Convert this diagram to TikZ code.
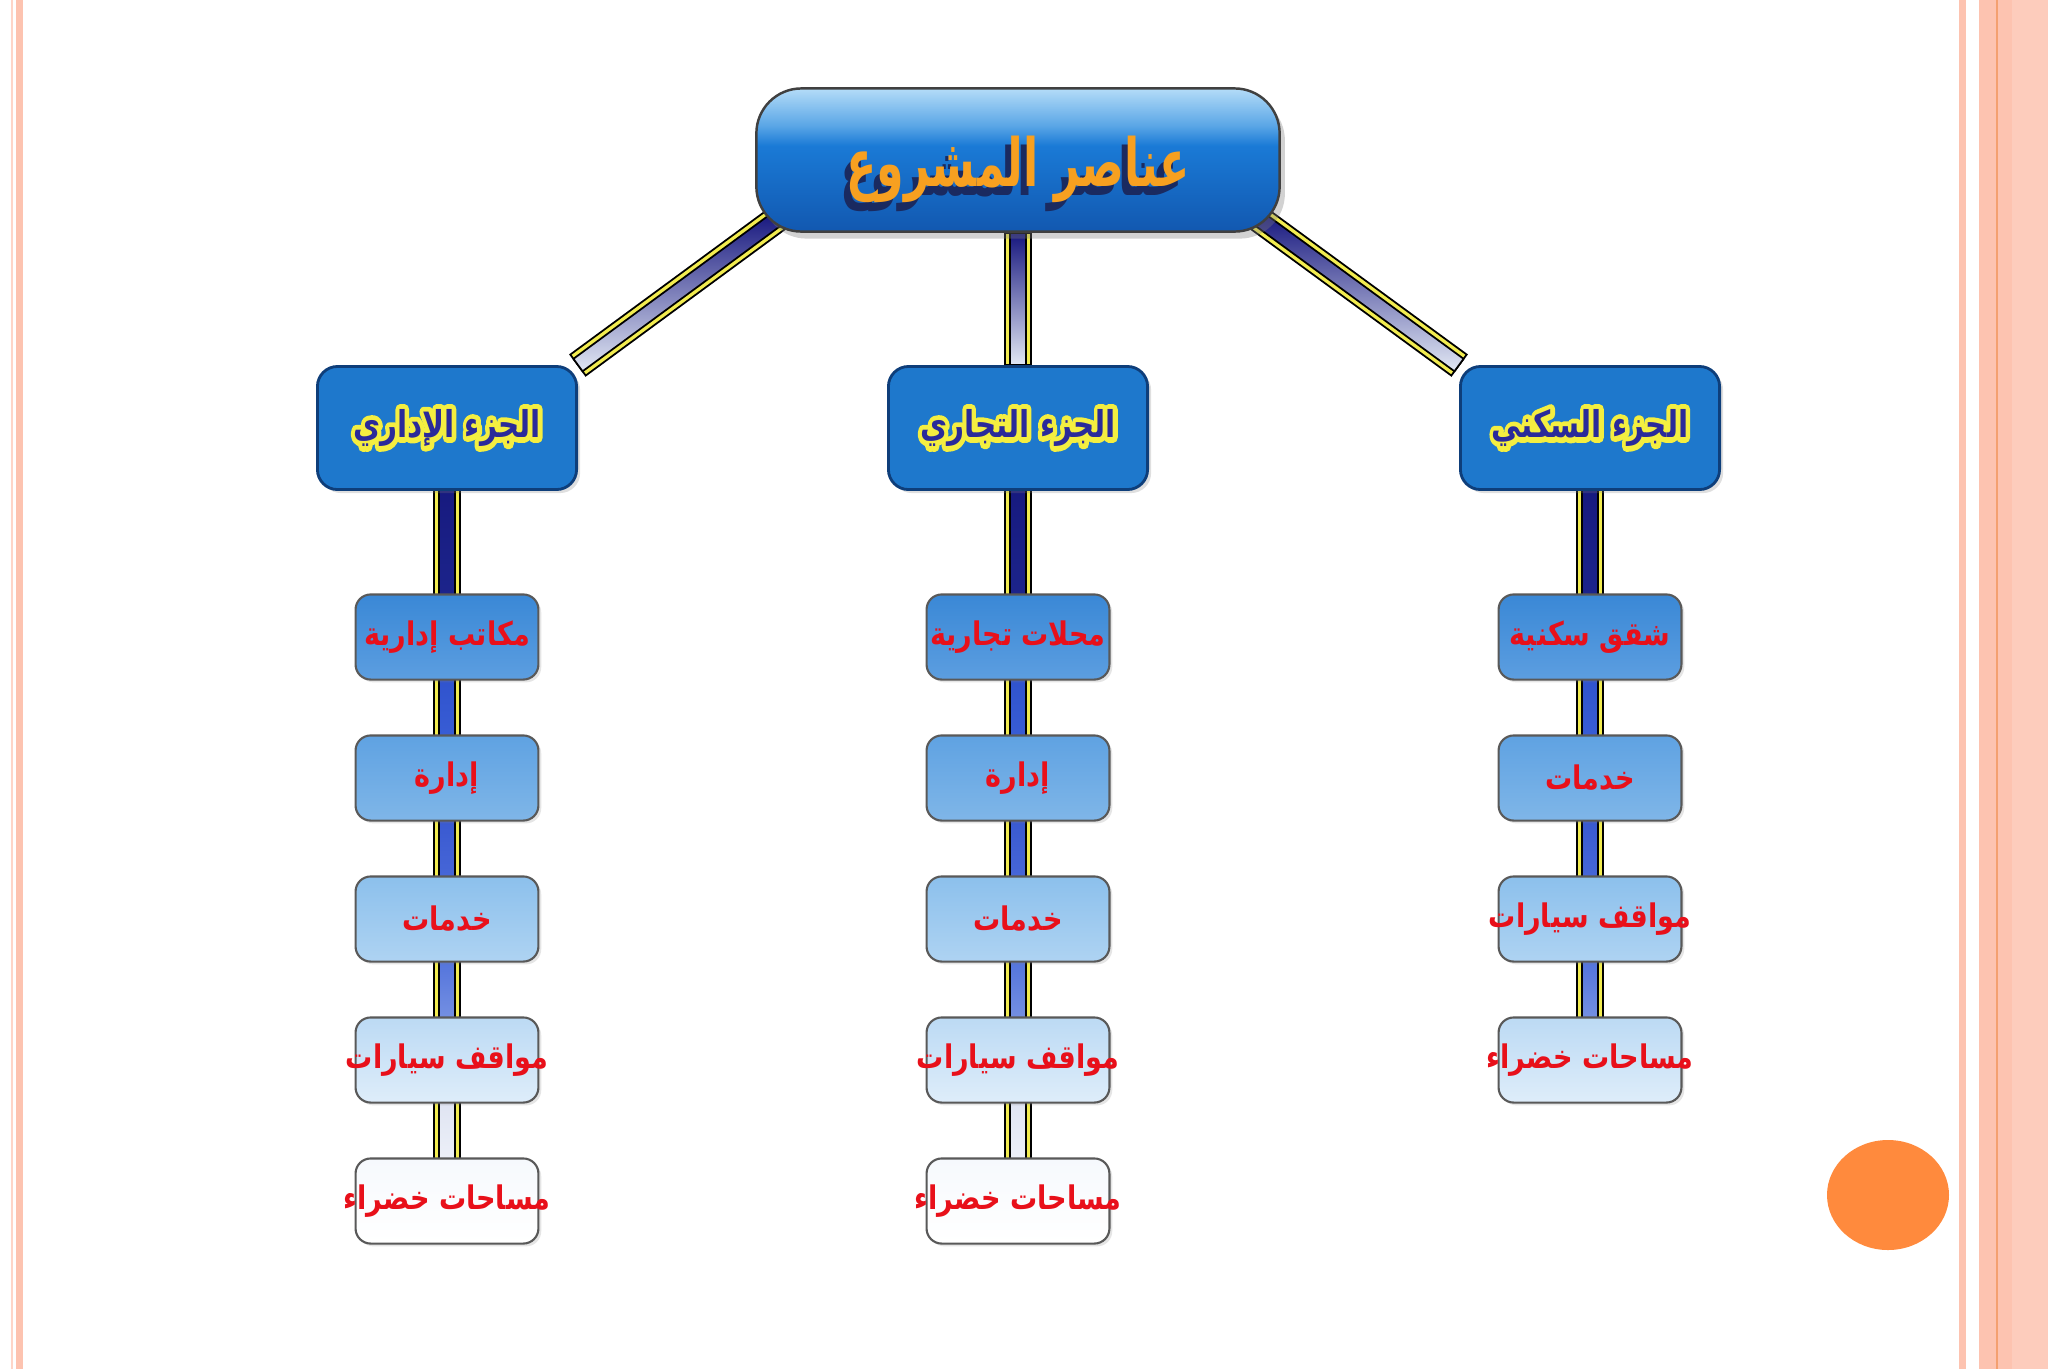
\documentclass[tikz,border=0pt]{standalone}
\usepackage{fontspec}
\usepackage{graphicx}
\TeXXeTstate=1
\newfontfamily\arabicfont[Script=Arabic]{DejaVu Sans}
\usetikzlibrary{calc,shadows}
\pgfdeclarelayer{pagebg}
\pgfdeclarelayer{links}
\pgfsetlayers{pagebg,links,main}

\definecolor{stripepink}{HTML}{FDC3B0}
\definecolor{stripeline}{HTML}{F4A070}
\definecolor{dotorange}{HTML}{FF8A3D}
\definecolor{titleorange}{HTML}{F7A020}
\definecolor{titleshade}{HTML}{1A2A60}
\definecolor{partblue}{HTML}{1E78CC}
\definecolor{partedge}{HTML}{0E3E7A}
\definecolor{parttext}{HTML}{2A2A9A}
\definecolor{haloyellow}{HTML}{F4EE40}
\definecolor{itemred}{HTML}{E8101A}
\definecolor{linkyellow}{HTML}{F2EC50}
\definecolor{linknavy}{HTML}{16167E}
\definecolor{linkpale}{HTML}{E2E8F4}
\definecolor{glossA}{HTML}{B4DCF8}
\definecolor{glossB}{HTML}{5AA6E6}
\definecolor{glossC}{HTML}{1A7AD6}
\definecolor{glossD}{HTML}{1258B0}
\pgfdeclareverticalshading{gloss}{100bp}{color(0bp)=(glossD); color(25bp)=(glossD); color(55bp)=(glossC); color(62bp)=(glossB); color(75bp)=(glossA); color(100bp)=(glossA)}
\definecolor{rowAtop}{HTML}{3A88D6}\definecolor{rowAbot}{HTML}{5C9EE0}
\definecolor{rowBtop}{HTML}{5FA2E2}\definecolor{rowBbot}{HTML}{7FB6E8}
\definecolor{rowCtop}{HTML}{8CC0EC}\definecolor{rowCbot}{HTML}{AED3F2}
\definecolor{rowDtop}{HTML}{BCDAF4}\definecolor{rowDbot}{HTML}{DEEDFA}
\definecolor{rowEtop}{HTML}{F6F9FD}
\definecolor{barA}{HTML}{141478}\definecolor{barB}{HTML}{1E2890}
\definecolor{barC}{HTML}{2A4CC8}\definecolor{barD}{HTML}{3E64DA}
\definecolor{barE}{HTML}{3050CC}\definecolor{barF}{HTML}{5070DC}
\definecolor{barG}{HTML}{3C60D8}\definecolor{barH}{HTML}{8CA4E6}
\definecolor{barI}{HTML}{D6DCEE}\definecolor{barJ}{HTML}{F6F8FC}

\newcommand\ar[1]{{\arabicfont\bfseries\beginR #1\endR}}
\newcommand\shadowed[1]{\raisebox{-4pt}[\height][\depth]{\scalebox{1}[1.5]{\rlap{\kern-1.8pt\raisebox{-1.6pt}{\color{titleshade}\ar{#1}}}{\color{titleorange}\ar{#1}}}}}
\newcommand\haloed[1]{\scalebox{1}[1.25]{\rlap{\color{haloyellow}\special{pdf:literal direct 2.4 w 1 j 1 Tr}\ar{#1}\special{pdf:literal direct 0 Tr}}{\color{parttext}\ar{#1}}}}
\newcommand\entry[1]{\makebox[0pt]{\scalebox{1}[1.2]{\ar{#1}}}}
\newcommand\linkbar[4]{%
  \filldraw[fill=linkyellow,draw=black,line width=0.5pt]
    ($(#1)!3.7pt!90:(#2)$) -- ($(#1)!3.7pt!-90:(#2)$) -- ($(#2)!3.7pt!90:(#1)$) -- ($(#2)!3.7pt!-90:(#1)$) -- cycle;
  \shadedraw[top color=#3,bottom color=#4,draw=black,line width=0.5pt]
    ($(#1)!2.2pt!90:(#2)$) -- ($(#1)!2.2pt!-90:(#2)$) -- ($(#2)!2.2pt!90:(#1)$) -- ($(#2)!2.2pt!-90:(#1)$) -- cycle;}

\tikzset{
  topbox/.style={rounded corners=12.8pt,draw=black!75,line width=0.7pt,shading=gloss,minimum width=148.8pt,minimum height=40.7pt,inner sep=0pt,font=\fontsize{12.6}{15}\selectfont,drop shadow={opacity=0.35,shadow xshift=1.5pt,shadow yshift=-2pt}},
  partbox/.style={rounded corners=5.7pt,draw=partedge,line width=0.8pt,fill=partblue,minimum width=73.7pt,minimum height=35pt,inner sep=0pt,font=\fontsize{8.4}{10}\selectfont,drop shadow={opacity=0.25,shadow xshift=1pt,shadow yshift=-1pt}},
  itembox/.style={rounded corners=4.3pt,draw=black!65,line width=0.6pt,minimum width=52pt,minimum height=24.2pt,inner sep=0pt,text=itemred,font=\fontsize{7.7}{9}\selectfont,drop shadow={opacity=0.2,shadow xshift=0.8pt,shadow yshift=-0.8pt}},
  rowa/.style={itembox,top color=rowAtop,bottom color=rowAbot},
  rowb/.style={itembox,top color=rowBtop,bottom color=rowBbot},
  rowc/.style={itembox,top color=rowCtop,bottom color=rowCbot},
  rowd/.style={itembox,top color=rowDtop,bottom color=rowDbot},
  rowe/.style={itembox,top color=rowEtop,bottom color=white}
}

\begin{document}
\begin{tikzpicture}[x=0.01cm,y=-0.01cm]
\useasboundingbox (0,0) rectangle (2048,1369);
\begin{pgfonlayer}{pagebg}
\fill[white] (0,0) rectangle (2048,1369);
\fill[stripepink!70] (11,0) rectangle (13,1369);
\fill[stripepink] (16,0) rectangle (23,1369);
\fill[stripepink] (1959,0) rectangle (1966,1369);
\fill[stripepink] (1979,0) rectangle (2048,1369);
\fill[stripeline] (1996,0) rectangle (1998,1369);
\fill[stripepink!85] (2012,0) rectangle (2048,1369);
\fill[dotorange] (1888,1195) ellipse [x radius=61,y radius=55];
\end{pgfonlayer}
\node[topbox] (anasir) at (1018,160) {\shadowed{عناصر المشروع}};
\node[partbox] (idari) at (447,428) {\haloed{الجزء الإداري}};
\node[partbox] (tijari) at (1018,428) {\haloed{الجزء التجاري}};
\node[partbox] (sakani) at (1590,428) {\haloed{الجزء السكني}};
\node[rowa] (i1) at (447,637) {\entry{مكاتب إدارية}};  \node[rowa] (t1) at (1018,637) {\entry{محلات تجارية}};  \node[rowa] (s1) at (1590,637) {\entry{شقق سكنية}};
\node[rowb] (i2) at (447,778) {\entry{إدارة}};          \node[rowb] (t2) at (1018,778) {\entry{إدارة}};          \node[rowb] (s2) at (1590,778) {\entry{خدمات}};
\node[rowc] (i3) at (447,919) {\entry{خدمات}};          \node[rowc] (t3) at (1018,919) {\entry{خدمات}};          \node[rowc] (s3) at (1590,919) {\entry{مواقف سيارات}};
\node[rowd] (i4) at (447,1060) {\entry{مواقف سيارات}};  \node[rowd] (t4) at (1018,1060) {\entry{مواقف سيارات}};  \node[rowd] (s4) at (1590,1060) {\entry{مساحات خضراء}};
\node[rowe] (i5) at (447,1201) {\entry{مساحات خضراء}};  \node[rowe] (t5) at (1018,1201) {\entry{مساحات خضراء}};
\coordinate (ltop) at ($(anasir.south west)+(22,-14)$);
\coordinate (rtop) at ($(anasir.south east)+(-22,-14)$);
\begin{pgfonlayer}{links}
\foreach \A/\B in {ltop/idari.north east,anasir.south/tijari.north,rtop/sakani.north west}{\linkbar{\A}{\B}{linknavy}{linkpale}}
\foreach \A/\B/\C/\D in {idari/i1/barA/barB,i1/i2/barC/barD,i2/i3/barE/barF,i3/i4/barG/barH,i4/i5/barI/barJ,
  tijari/t1/barA/barB,t1/t2/barC/barD,t2/t3/barE/barF,t3/t4/barG/barH,t4/t5/barI/barJ,
  sakani/s1/barA/barB,s1/s2/barC/barD,s2/s3/barE/barF,s3/s4/barG/barH}{\linkbar{\A}{\B}{\C}{\D}}
\end{pgfonlayer}
\end{tikzpicture}
\end{document}
